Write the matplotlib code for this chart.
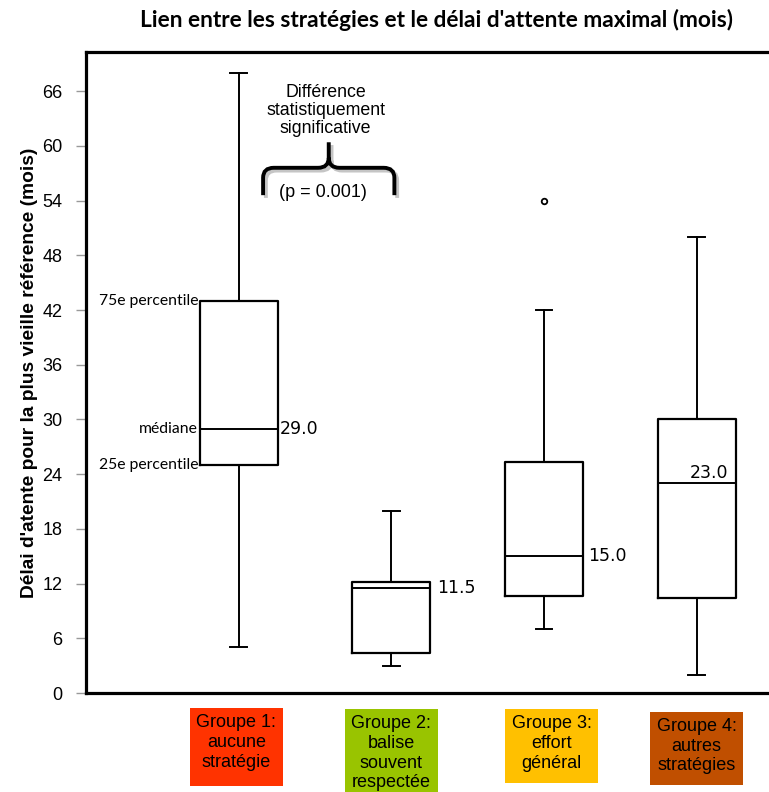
import matplotlib
matplotlib.use('Agg')
import matplotlib.pyplot as plt
import matplotlib.transforms as mtransforms
from matplotlib.patches import Rectangle, PathPatch
from matplotlib.path import Path
import matplotlib.patheffects as pe

# Donnees
group_labels = ['Groupe 1:\naucune\nstratégie',
                'Groupe 2:\nbalise\nsouvent\nrespectée',
                'Groupe 3:\neffort\ngénéral',
                'Groupe 4:\nautres\nstratégies']
group_colors = ['#FF3300', '#99C400', '#FFC000', '#C04F00']
medians = [29.0, 11.5, 15.0, 23.0]
q1 = [25.0, 4.4, 10.6, 10.4]
q3 = [43.0, 12.2, 25.3, 30.0]
whis_lo = [5.0, 3.0, 7.0, 2.0]
whis_hi = [68.0, 20.0, 42.0, 50.0]
fliers = [[], [], [54.0], []]
y_ticks = list(range(0, 67, 6))

positions = [1, 2, 3, 4]

fig = plt.figure(figsize=(7.69, 7.92), dpi=100)
ax = fig.add_axes([86 / 769, 1 - 693 / 792, 687 / 769, 641 / 792])

stats = []
for i in range(4):
    stats.append({'med': medians[i], 'q1': q1[i], 'q3': q3[i],
                  'whislo': whis_lo[i], 'whishi': whis_hi[i],
                  'fliers': fliers[i], 'label': ''})

ax.bxp(stats, positions=positions, widths=0.51, capwidths=0.11,
       showfliers=True, patch_artist=False,
       boxprops=dict(color='black', linewidth=1.6),
       medianprops=dict(color='black', linewidth=1.4),
       whiskerprops=dict(color='black', linewidth=1.4),
       capprops=dict(color='black', linewidth=1.4),
       flierprops=dict(marker='o', markersize=4, markerfacecolor='white',
                       markeredgecolor='black', markeredgewidth=1.3))

ax.set_xlim(0, 4.5)
ax.set_ylim(0, 70.3)
ax.set_yticks(y_ticks)
ax.set_yticklabels([str(v) for v in y_ticks], fontsize=13, family='Liberation Sans')
ax.set_xticks([])
ax.tick_params(axis='y', direction='out', length=7, width=1, color='#999999', pad=10)
for s in ax.spines.values():
    s.set_linewidth(2.3)

ax.set_ylabel("Délai d'atente pour la plus vieille référence (mois)",
              fontsize=13.8, fontweight='bold', family='Liberation Sans', labelpad=3)

# etiquettes des medianes
label_dx = [0.27, 0.30, 0.29, 0.0]
for i, m in enumerate(medians):
    if i == 3:
        ax.text(positions[i] + 0.08, m + 0.1, f'{m:.1f}', ha='center', va='bottom',
                fontsize=12.5, family='DejaVu Sans')
    else:
        ax.text(positions[i] + label_dx[i], m, f'{m:.1f}', ha='left', va='center',
                fontsize=12.5, family='DejaVu Sans')

# legende du premier groupe
for txt, val in [('75e percentile', q3[0]), ('médiane', medians[0]), ('25e percentile', q1[0])]:
    ax.text(positions[0] - 0.265, val, txt, ha='right', va='center',
            fontsize=11.3, family='Lato')

# accolade + annotation
bx0, bx1, bxc = 1.16, 2.02, 1.59
by0, byh, byt = 54.6, 57.6, 60.4
rx, ry = 0.07, 1.1
verts = [(bx0, by0), (bx0, byh - ry), (bx0, byh), (bx0 + rx, byh),
         (bxc - rx, byh), (bxc, byh), (bxc, byh + ry), (bxc, byt),
         (bxc, byh + ry), (bxc, byh), (bxc + rx, byh),
         (bx1 - rx, byh), (bx1, byh), (bx1, byh - ry), (bx1, by0)]
codes = [Path.MOVETO, Path.LINETO, Path.CURVE3, Path.CURVE3,
         Path.LINETO, Path.CURVE3, Path.CURVE3, Path.LINETO,
         Path.MOVETO, Path.CURVE3, Path.CURVE3,
         Path.LINETO, Path.CURVE3, Path.CURVE3, Path.LINETO]
brace = PathPatch(Path(verts, codes), facecolor='none', edgecolor='black',
                  linewidth=2.8, capstyle='butt')
brace.set_path_effects([pe.SimpleLineShadow(offset=(2, -2), shadow_color='gray', alpha=0.45),
                        pe.Normal()])
ax.add_patch(brace)
ax.text(1.57, 63.9, 'Différence\nstatistiquement\nsignificative', ha='center', va='center',
        fontsize=12.8, family='Liberation Sans', linespacing=1.08)
ax.text(1.55, 54.9, '(p = 0.001)', ha='center', va='center',
        fontsize=13, family='Liberation Sans')

# cases de couleur sous l'axe
trans = mtransforms.blended_transform_factory(ax.transData, ax.transAxes)
box_w = 0.61
tops = [-0.0234, -0.025, -0.025, -0.029]
bottoms = [-0.145, -0.16, -0.140, -0.143]
box_x = [0.985, 2.0, 3.05, 4.0]
for i in range(4):
    ax.add_patch(Rectangle((box_x[i] - box_w / 2, bottoms[i]), box_w, tops[i] - bottoms[i],
                           transform=trans, facecolor=group_colors[i], edgecolor='none',
                           clip_on=False))
    ax.text(box_x[i], tops[i] - 0.01, group_labels[i], transform=trans,
            ha='center', va='top', fontsize=13, family='Liberation Sans',
            linespacing=1.2, clip_on=False)

fig.text(437 / 769, 1 - 20 / 792, "Lien entre les stratégies et le délai d'attente maximal (mois)",
         ha='center', va='center', fontsize=16.3, fontweight='bold', family='Lato')

fig.savefig('out.png', dpi=100)
